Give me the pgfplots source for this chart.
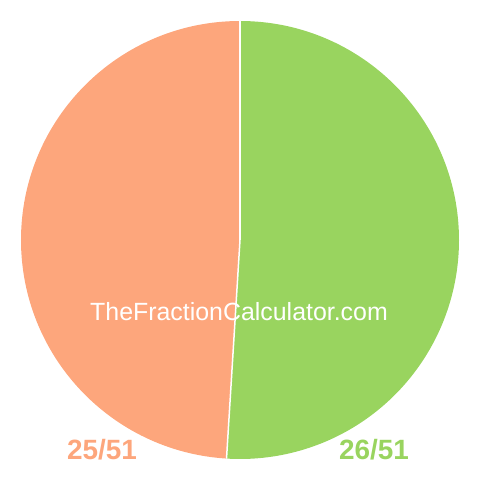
\documentclass[border=0pt]{standalone}
\usepackage{pgfplots}
\usepackage{pgfplotstable}
\pgfplotsset{compat=1.18}
\usepackage{fontspec}
\setmainfont{Liberation Sans}

\definecolor{sliceorange}{RGB}{253,166,124}
\definecolor{slicegreen}{RGB}{153,212,95}

% fraction parts: 25/51 and 26/51
\pgfplotstableread{
part value
left 25
right 26
}\fractiondata
\pgfplotstablegetelem{0}{value}\of\fractiondata \let\leftval\pgfplotsretval
\pgfplotstablegetelem{1}{value}\of\fractiondata \let\rightval\pgfplotsretval

\begin{document}
\begin{tikzpicture}
\path[use as bounding box] (0,0) rectangle (480bp,480bp);
\begin{axis}[
  at={(0,0)}, anchor=south west,
  scale only axis, width=480bp, height=480bp,
  xmin=-240, xmax=240, ymin=-240, ymax=240,
  hide axis, clip=false,
]
  \pgfmathsetmacro{\total}{\leftval+\rightval}
  \pgfmathsetmacro{\split}{90-360*\rightval/\total}
  % green slice, clockwise from twelve o'clock
  \fill[slicegreen] (axis cs:0,0) -- (axis cs:0,219)
     arc[start angle=90, end angle=\split, radius=219bp] -- cycle;
  % orange slice
  \fill[sliceorange] (axis cs:0,0) -- (axis cs:0,219)
     arc[start angle=90, end angle=\split+360, radius=219bp] -- cycle;
  \draw[white, line width=1.5bp] (axis cs:0,0) -- (axis cs:0,219);
  \draw[white, line width=1.5bp] (axis cs:0,0) -- ++(\split:219bp);
  \node[white, font=\fontsize{25}{30}\selectfont] at (axis cs:-1,-72) {TheFractionCalculator.com};
  \node[sliceorange, font=\fontsize{28}{32}\selectfont\bfseries] at (axis cs:-138,-210) {\leftval/51};
  \node[slicegreen, font=\fontsize{28}{32}\selectfont\bfseries] at (axis cs:134,-210) {\rightval/51};
\end{axis}
\end{tikzpicture}
\end{document}
